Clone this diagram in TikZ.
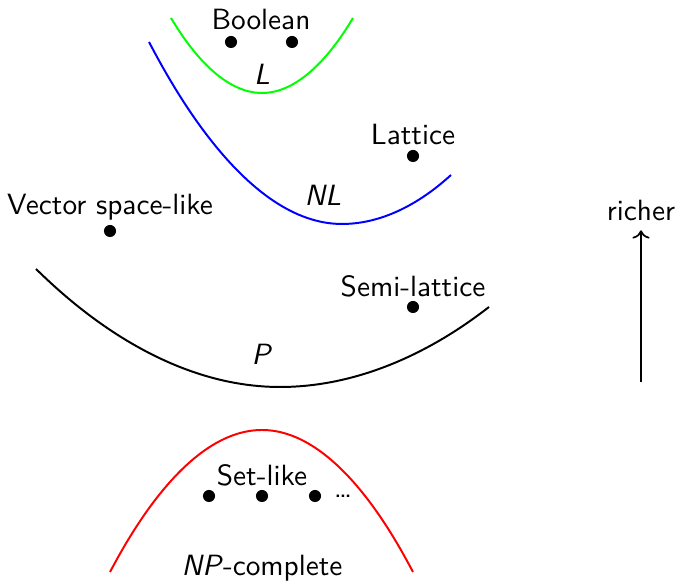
\documentclass[tikz,border=0pt]{standalone}
\usetikzlibrary{arrows.meta}
\renewcommand{\familydefault}{\sfdefault}

\begin{document}
\begin{tikzpicture}[x=0.355pt,y=0.355pt,font=\fontsize{10.4}{12.5}\selectfont,
      curve/.style={line width=0.7pt},
      pt/.style={circle,fill=black,inner sep=0pt,minimum size=4.3pt},
      lbl/.style={inner sep=1pt}]
  \useasboundingbox (0,0) rectangle (676,584);
  % classes, top to bottom
  \coordinate (gl) at (171,566); \coordinate (gb) at (262,491); \coordinate (gr) at (353,566);
  \draw[curve,green] (gl) parabola bend (gb) (gr);
  \coordinate (bl) at (149,542); \coordinate (bb) at (342,360); \coordinate (br) at (451,409);
  \draw[curve,blue] (bl) parabola bend (bb) (br);
  \coordinate (kl) at (36,315); \coordinate (kb) at (280,197); \coordinate (kr) at (489,277);
  \draw[curve,black] (kl) parabola bend (kb) (kr);
  \coordinate (rl) at (110,12); \coordinate (rb) at (262,154); \coordinate (rr) at (413,12);
  \draw[curve,red] (rl) parabola bend (rb) (rr);
  % L
  \node[lbl] (bool) at (261,564) {Boolean};
  \node[pt] (bool1) at (231,542) {};
  \node[pt] (bool2) at (292,542) {};
  \node[lbl] (L) at (262,510) {\textit{L}};
  % NL
  \node[lbl] (lat) at (413,449) {Lattice};
  \node[pt] (latpt) at (413,428) {};
  \node[lbl] (NL) at (323,389) {\textit{NL}};
  % P
  \node[lbl] (vec) at (110,377) {Vector space-like};
  \node[pt] (vecpt) at (110,353) {};
  \node[lbl] (semi) at (413,298) {Semi-lattice};
  \node[pt] (semipt) at (413,277) {};
  \node[lbl] (P) at (262,230) {\textit{P}};
  % NP-complete
  \node[lbl] (set) at (262,109) {Set-like};
  \node[pt] (set1) at (209,88) {};
  \node[pt] (set2) at (262,88) {};
  \node[pt] (set3) at (315,88) {};
  \node[lbl] (more) at (343,88) {\dots};
  \node[lbl] (NP) at (262,16) {\textit{NP}-complete};
  % direction
  \node[lbl] (richer) at (641,373) {richer};
  \coordinate (base) at (641,202);
  \draw[->,line width=0.6pt,shorten >=2pt] (base) -- (richer);
\end{tikzpicture}
\end{document}
